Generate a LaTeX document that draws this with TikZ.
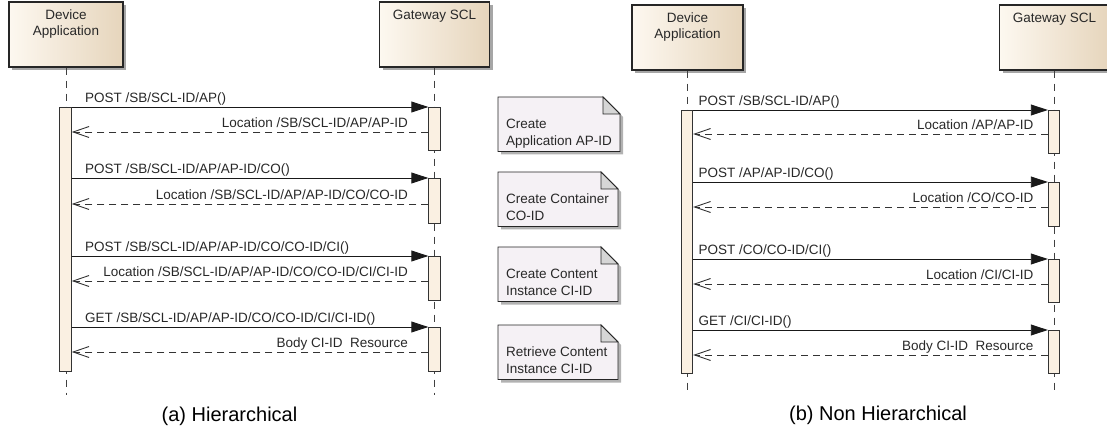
\documentclass[tikz,border=0pt]{standalone}
\usepackage{fontspec}
\setmainfont{Liberation Sans}
\usepackage{tikz}
\usetikzlibrary{positioning, arrows.meta, shapes, shadows}

\definecolor{boxlight}{RGB}{253,248,240}
\definecolor{boxdark}{RGB}{230,213,188}
\definecolor{barfill}{RGB}{250,240,226}
\definecolor{notefill}{RGB}{245,241,245}
\definecolor{foldfill}{RGB}{214,214,214}
\definecolor{inkgray}{RGB}{40,40,40}

\begin{document}
\begin{tikzpicture}[x=1pt, y=-1pt,
        every node/.style={font=\fontsize{13.5}{16.5}\selectfont, text=inkgray},
        actor/.style={draw=black!85, line width=1.1pt, left color=boxlight, right color=boxdark, minimum height=65pt,
            drop shadow={shadow xshift=3pt, shadow yshift=-3pt, fill=black!35, opacity=1}},
        lbl/.style={anchor=north, inner sep=0pt, yshift=-8pt, align=center},
        bar/.style={draw=black!80, line width=0.9pt, fill=barfill, minimum width=11.5pt, inner sep=0pt},
        life/.style={draw=black!75, line width=0.9pt, dash pattern=on 7pt off 6pt},
        call/.style={draw=black!90, line width=0.9pt, -{Triangle[length=17pt, width=11pt]}},
        reply/.style={draw=black!80, line width=0.9pt, dash pattern=on 7pt off 5pt, -{Straight Barb[length=16pt, width=11pt]}},
        reqlbl/.style={anchor=base west, inner sep=0pt, yshift=4.5pt},
        resplbl/.style={anchor=base east, inner sep=0pt, yshift=4.5pt},
        notebox/.style={draw=black!85, line width=0.9pt, fill=notefill,
            drop shadow={shadow xshift=3pt, shadow yshift=-3pt, fill=black!30, opacity=1}},
        fold/.style={draw=black!85, line width=0.9pt, fill=foldfill},
        notetxt/.style={anchor=north west, inner sep=0pt, align=left, font=\fontsize{13.5}{17.5}\selectfont},
        caption/.style={anchor=base, font=\fontsize{20}{24}\selectfont, text=black}]
    \useasboundingbox (0,0) rectangle (1107,427);
    \clip (0,0) rectangle (1107,427);

    % (a) hierarchical
    \node[actor, minimum width=114pt, label={[lbl]north:Device\\Application}] (devA) at (66,34.5) {};
    \node[actor, minimum width=110pt, label={[lbl]north:Gateway SCL}] (gwA) at (434.5,34.5) {};
    \coordinate (endA) at (0,395);
    \draw[life] (devA.south) -- (devA.south |- endA);
    \draw[life] (gwA.south) -- (gwA.south |- endA);
    \node[bar, anchor=north, minimum height=264pt] (dbarA) at (65.5,107) {};
    \foreach \y/\h/\ry/\req/\resp [count=\i] in {
            107/43/132/{POST /SB/SCL-ID/AP()}/{Location /SB/SCL-ID/AP/AP-ID},
            178/45/204/{POST /SB/SCL-ID/AP/AP-ID/CO()}/{Location /SB/SCL-ID/AP/AP-ID/CO/CO-ID},
            256/44/281/{POST /SB/SCL-ID/AP/AP-ID/CO/CO-ID/CI()}/{Location /SB/SCL-ID/AP/AP-ID/CO/CO-ID/CI/CI-ID},
            327/44/352/{GET /SB/SCL-ID/AP/AP-ID/CO/CO-ID/CI/CI-ID()}/{Body CI-ID~ Resource}} {
        \node[bar, anchor=north, minimum height=\h pt] (gbarA\i) at (434.5,\y) {};
        \coordinate (rA\i) at (gbarA\i.west |- 0,\ry);
        \draw[call] (dbarA.east |- gbarA\i.north) -- (gbarA\i.north west)
            node[reqlbl, pos=0, xshift=13pt] (qA\i) {\req};
        \draw[reply] (rA\i) -- (dbarA.east |- rA\i)
            node[resplbl, pos=0, xshift=-20pt] (pA\i) {\resp};
    }
    \node[caption] (capA) at (229.5,421) {(a) Hierarchical};

    % notes
    \foreach \t/\w/\txt [count=\i] in {
            97/620/{Create\\Application AP-ID},
            172/618/{Create Container\\CO-ID},
            247/618/{Create Content\\Instance CI-ID},
            325/618/{Retrieve Content\\Instance CI-ID}} {
        \draw[notebox] (498,\t) -- (\w-17,\t) -- (\w,\t+17) -- (\w,\t+54.5) -- (498,\t+54.5) -- cycle;
        \filldraw[fold] (\w-17,\t) -- (\w-17,\t+17) -- (\w,\t+17) -- cycle;
        \node[notetxt] (note\i) at (506,\t+21.5) {\txt};
    }

    % (b) non hierarchical
    \node[actor, minimum width=111pt, label={[lbl]north:Device\\Application}] (devB) at (687.5,37.5) {};
    \node[actor, minimum width=110pt, label={[lbl]north:Gateway SCL}] (gwB) at (1054.5,37.5) {};
    \coordinate (endB) at (0,392);
    \draw[life] (devB.south) -- (devB.south |- endB);
    \draw[life] (gwB.south) -- (gwB.south |- endB);
    \node[bar, anchor=north, minimum height=263pt] (dbarB) at (687,110) {};
    \foreach \y/\h/\ry/\req/\resp [count=\i] in {
            110/43/134/{POST /SB/SCL-ID/AP()}/{Location /AP/AP-ID},
            182/44/207/{POST /AP/AP-ID/CO()}/{Location /CO/CO-ID},
            259/43/284/{POST /CO/CO-ID/CI()}/{Location /CI/CI-ID},
            330/43/355/{GET /CI/CI-ID()}/{Body CI-ID~ Resource}} {
        \node[bar, anchor=north, minimum height=\h pt] (gbarB\i) at (1054,\y) {};
        \coordinate (rB\i) at (gbarB\i.west |- 0,\ry);
        \draw[call] (dbarB.east |- gbarB\i.north) -- (gbarB\i.north west)
            node[reqlbl, pos=0, xshift=5pt] (qB\i) {\req};
        \draw[reply] (rB\i) -- (dbarB.east |- rB\i)
            node[resplbl, pos=0, xshift=-14pt] (pB\i) {\resp};
    }
    \node[caption] (capB) at (878,420) {(b) Non Hierarchical};
\end{tikzpicture}
\end{document}
